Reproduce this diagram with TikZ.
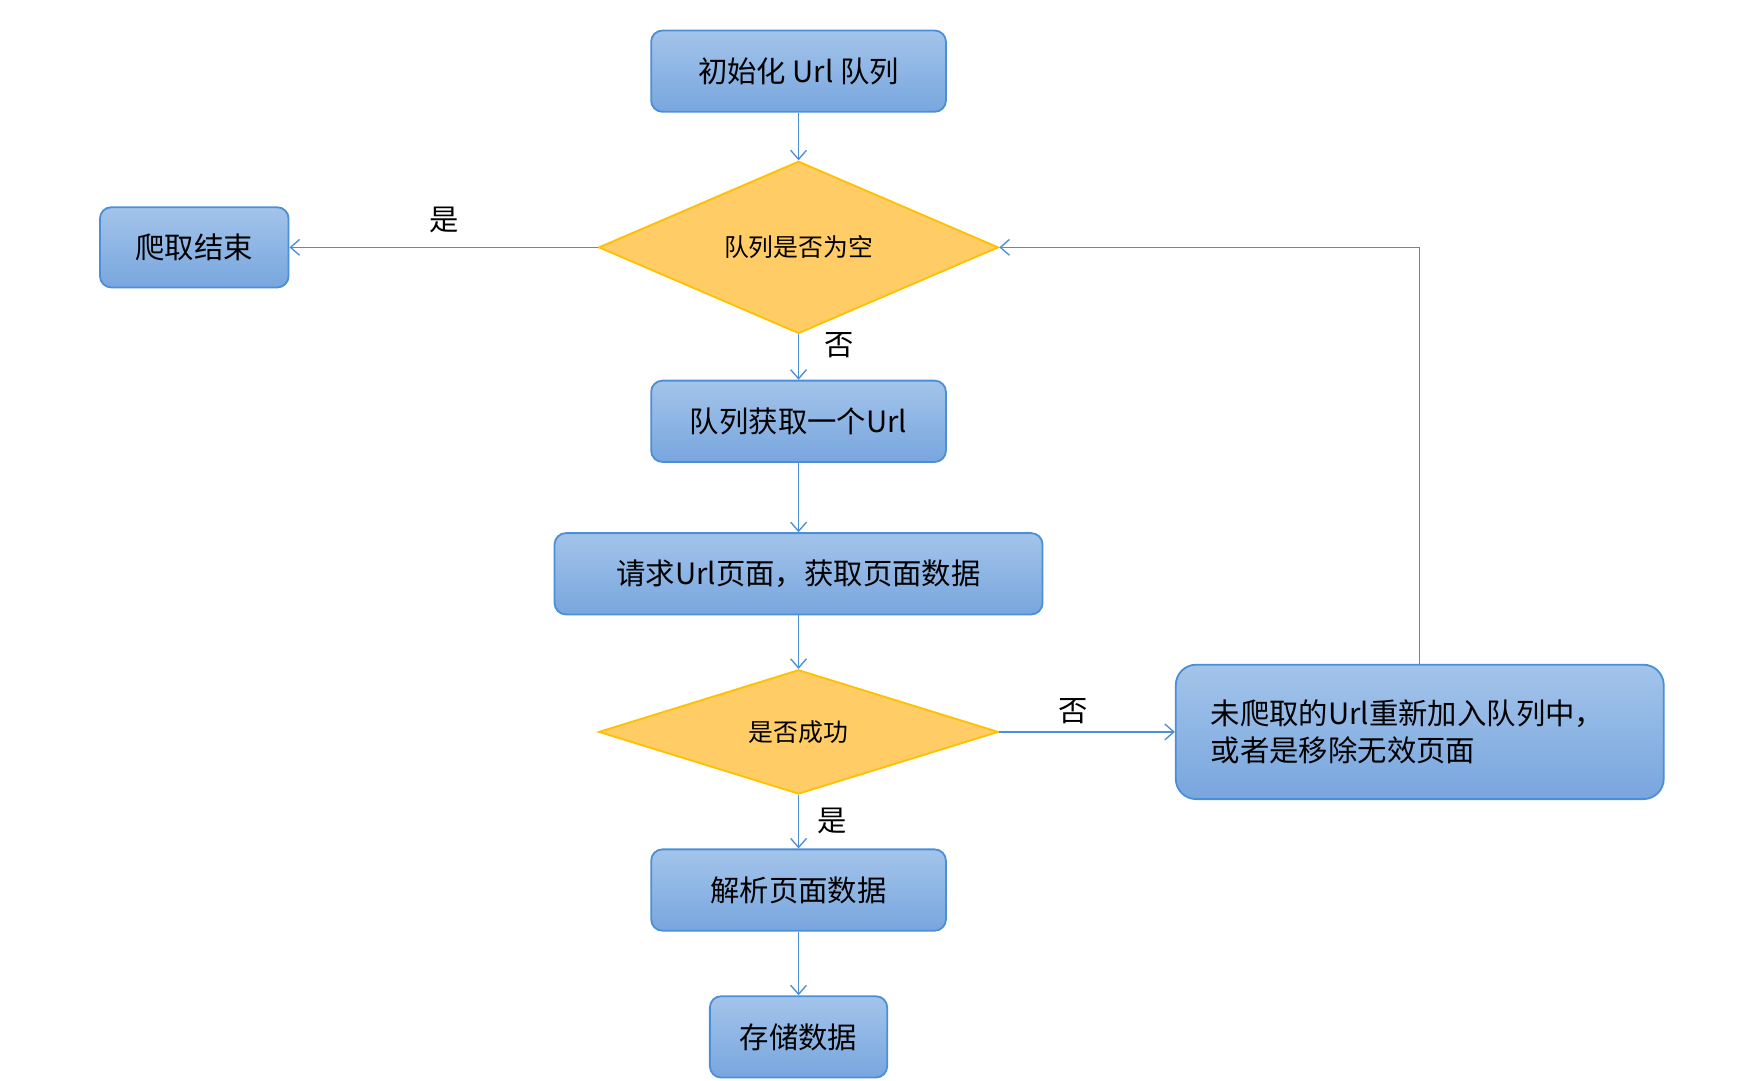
\documentclass[tikz,border=0pt]{standalone}
\usepackage{fontspec}
\setmainfont{Noto Sans CJK SC}
\usetikzlibrary{shapes.geometric,arrows.meta}
\definecolor{bt}{HTML}{A3C4EA}
\definecolor{bb}{HTML}{78A6DE}
\definecolor{bd}{HTML}{4A8FD8}
\definecolor{dfill}{HTML}{FFCC66}
\definecolor{dd}{HTML}{FFC000}
\definecolor{ln}{HTML}{4A8FD8}
\begin{document}
\begin{tikzpicture}[x=0.5pt,y=-0.5pt,
 box/.style={draw=bd,line width=0.8pt,rounded corners=5pt,top color=bt,bottom color=bb,font=\fontsize{13}{16}\selectfont,inner sep=0pt},
 dia/.style={diamond,draw=dd,line width=0.8pt,fill=dfill,font=\fontsize{11}{13}\selectfont,inner sep=0pt},
 arr/.style={draw=ln,line width=0.6pt,-{Straight Barb[length=4pt,width=7pt]}},
 lab/.style={font=\fontsize{13}{15}\selectfont}]
\useasboundingbox (0,0) rectangle (1560,957);
\node[box,minimum width=130.5pt,minimum height=36pt] (init) at (707,63) {初始化 Url 队列};
\node[dia,minimum width=177pt,minimum height=55pt] (d1) at (707,219) {队列是否为空};
\node[box,minimum width=83.5pt,minimum height=35.5pt] (end) at (172,219) {爬取结束};
\node[box,minimum width=130.5pt,minimum height=36pt] (get) at (707,373) {队列获取一个Url};
\node[box,minimum width=216pt,minimum height=36pt] (req) at (707,508) {请求Url页面，获取页面数据};
\node[dia,minimum width=177pt,minimum height=55pt] (d2) at (707,648) {是否成功};
\node[box,minimum width=216pt,minimum height=59.5pt,rounded corners=9pt,align=left,text width=185pt] (fail) at (1257,648) {未爬取的Url重新加入队列中，\\或者是移除无效页面};
\node[box,minimum width=130.5pt,minimum height=36pt] (parse) at (707,788) {解析页面数据};
\node[box,minimum width=78.5pt,minimum height=36pt] (store) at (707,918) {存储数据};
\draw[arr] (init) -- (d1);
\draw[arr] (d1) -- (end);
\draw[arr] (d1) -- (get);
\draw[arr] (get) -- (req);
\draw[arr] (req) -- (d2);
\draw[arr] (d2) -- (fail);
\draw[arr] (d2) -- (parse);
\draw[arr] (parse) -- (store);
\draw[arr] (fail.north) |- (d1.east);
\node[lab] (l1) at (393,195) {是};
\node[lab] (l2) at (743,306) {否};
\node[lab] (l3) at (950,630) {否};
\node[lab] (l4) at (737,727) {是};
\end{tikzpicture}
\end{document}
